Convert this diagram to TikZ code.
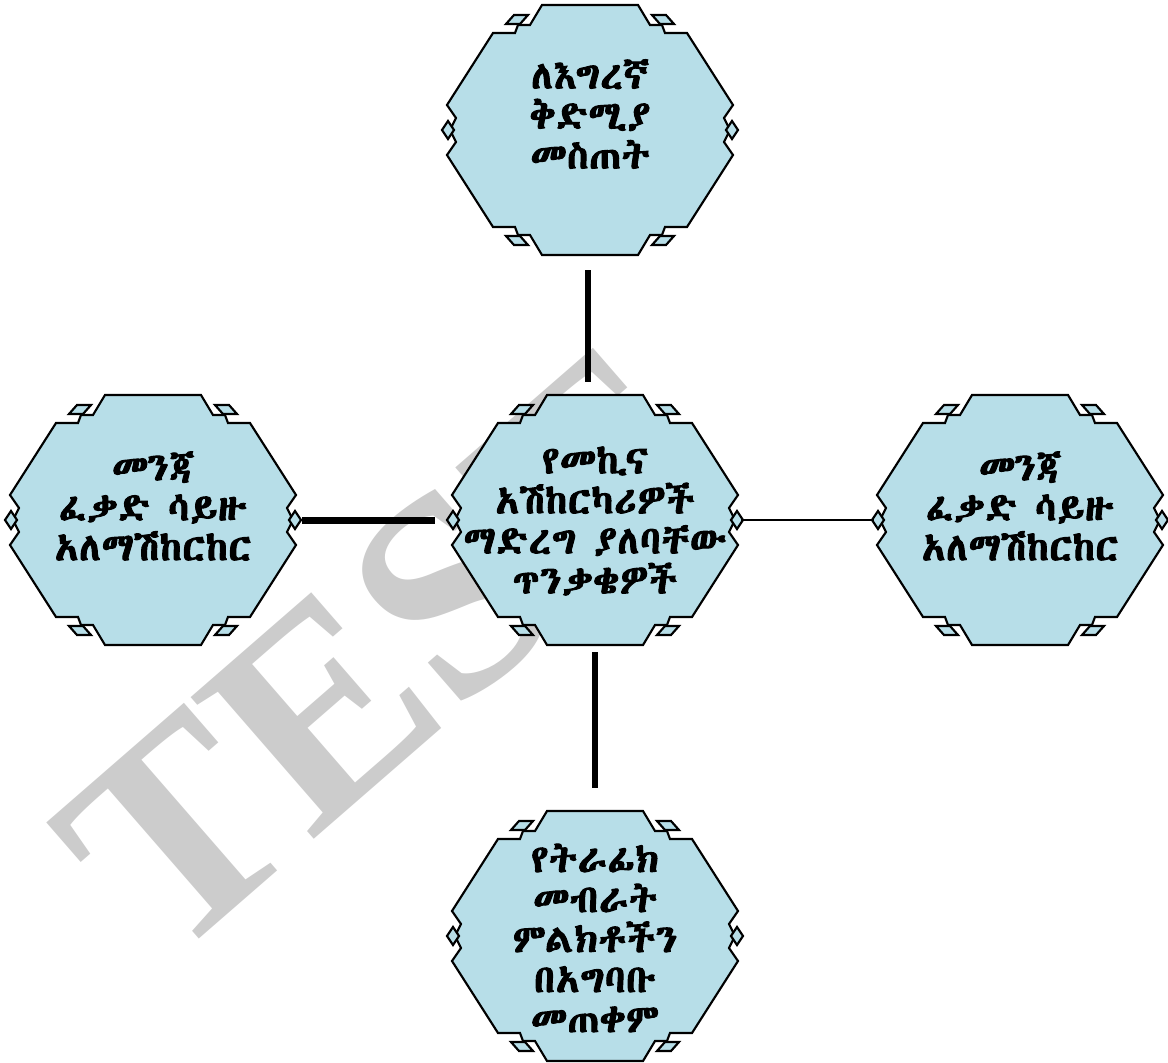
\documentclass[tikz,border=0pt]{standalone}
\usepackage{fontspec}
\IfFontExistsTF{Abyssinica SIL}{\newfontfamily\ethfont[FakeBold=2.5,LetterSpace=2]{Abyssinica SIL}}{%
 \IfFontExistsTF{FreeSerif}{\newfontfamily\ethfont[FakeBold=2.5,LetterSpace=2]{FreeSerif}}{%
  \IfFontExistsTF{Noto Sans Ethiopic}{\newfontfamily\ethfont[FakeBold=1.5]{Noto Sans Ethiopic}}{%
   \newfontfamily\ethfont{DejaVu Sans}}}}
\newfontfamily\wmfont{Liberation Serif}
\definecolor{hexfill}{HTML}{B7DEE8}
\definecolor{wmgray}{HTML}{CCCCCC}
\tikzset{
  hexline/.style={draw=black, fill=hexfill, line width=1.6pt, line join=miter},
  hexbox/.style={inner sep=0pt, outer sep=0pt, minimum width=219pt, minimum height=187.5pt},
  txt/.style={align=center, inner sep=0pt, font=\ethfont\fontsize{29}{30}\selectfont},
  thickconn/.style={line width=4.5pt},
  thinconn/.style={line width=1pt},
  dhex/.pic={
    \path[hexline] (-48,-125) -- (48,-125) -- (60,-105) -- (72,-105) -- (75,-97) -- (97,-97)
      -- (143,-25) -- (134,-12) -- (138,-4) -- (138,4) -- (134,12) -- (143,25)
      -- (97,97) -- (75,97) -- (72,105) -- (60,105) -- (48,125) -- (-48,125)
      -- (-60,105) -- (-72,105) -- (-75,97) -- (-97,97) -- (-143,25) -- (-134,12)
      -- (-138,4) -- (-138,-4) -- (-134,-12) -- (-143,-25) -- (-97,-97) -- (-75,-97)
      -- (-72,-105) -- (-60,-105) -- cycle;
    \path[hexline] (142,-9) -- (148,0) -- (142,9) -- (136,0) -- cycle;
    \path[hexline] (-142,-9) -- (-148,0) -- (-142,9) -- (-136,0) -- cycle;
    \path[hexline] (-84,-106) -- (-76,-115) -- (-62,-115) -- (-70,-106) -- cycle;
    \path[hexline] (84,-106) -- (76,-115) -- (62,-115) -- (70,-106) -- cycle;
    \path[hexline] (-84,106) -- (-76,115) -- (-62,115) -- (-70,106) -- cycle;
    \path[hexline] (84,106) -- (76,115) -- (62,115) -- (70,106) -- cycle;
  }
}
\begin{document}
\begin{tikzpicture}[x=0.75pt,y=-0.75pt]
\useasboundingbox (0,0) rectangle (1168,1063);
% watermark
\node[rotate=41, anchor=base west, text=wmgray, inner sep=0pt, font=\wmfont\bfseries\fontsize{215}{215}\selectfont] (wm) at (166,968) {TEST};
% shapes
\pic at (590,130) {dhex};
\pic at (595,520) {dhex};
\pic at (153,520) {dhex};
\pic at (1020,520) {dhex};
\pic at (595,936) {dhex};
\node[hexbox] (top) at (590,130) {};
\node[hexbox] (center) at (595,520) {};
\node[hexbox] (left) at (153,520) {};
\node[hexbox] (right) at (1020,520) {};
\node[hexbox] (bottom) at (595,936) {};
% texts
\node[txt] (topT) at (590,114) {ለእግረኛ\\ቅድሚያ\\መስጠት};
\node[txt] (centerT) at (595,521) {የመኪና\\አሽከርካሪዎች\\ማድረግ ያለባቸው\\ጥንቃቄዎች};
\node[txt] (leftT) at (153,506) {መንጃ\\ፈቃድ ሳይዙ\\አለማሽከርከር};
\node[txt] (rightT) at (1020,506) {መንጃ\\ፈቃድ ሳይዙ\\አለማሽከርከር};
\node[txt] (bottomT) at (595,938) {የትራፊክ\\መብራት\\ምልክቶችን\\በአግባቡ\\መጠቀም};
% connectors
\draw[thickconn, shorten <=11.25pt, shorten >=9.75pt] ([xshift=-1.5pt]top.south) -- ([xshift=-1.5pt]top.south |- center.north);
\draw[thickconn, shorten <=5.25pt, shorten >=17.25pt] (center.south) -- (center.south |- bottom.north);
\draw[line width=5.25pt, shorten <=2.25pt, shorten >=10.5pt] (left.east) -- (center.west);
\draw[thinconn] (center.east) -- (right.west);
\end{tikzpicture}
\end{document}
